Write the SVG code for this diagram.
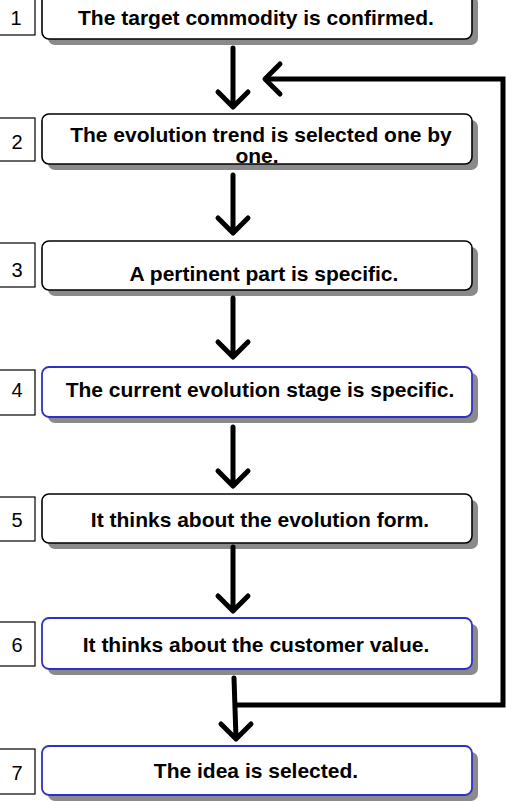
<svg xmlns="http://www.w3.org/2000/svg" width="506" height="801" viewBox="0 0 506 801">
<style>
.sh{fill:#8a8a8a;stroke:none}
.bx{fill:#fff;stroke:#000;stroke-width:1.6}
.bb{fill:#fff;stroke:#3030c8;stroke-width:1.8}
.nb{fill:#fff;stroke:#000;stroke-width:1.2}
.t{font-family:"Liberation Sans",Arial,sans-serif;font-weight:bold;font-size:21px;fill:#000;text-anchor:middle}
.n{font-family:"Liberation Sans",Arial,sans-serif;font-size:20px;fill:#000;text-anchor:middle}
.ln{fill:none;stroke:#000;stroke-width:5;stroke-linecap:round;stroke-linejoin:round}
.fb{fill:none;stroke:#000;stroke-width:5;stroke-linejoin:miter}
</style>
<rect width="506" height="801" fill="#fff"/>
<g id="node1">
<rect class="nb" x="-1" y="-9" width="36" height="44"/>
<text class="n" x="16" y="25">1</text>
<rect class="sh" x="48" y="-4" width="430" height="49" rx="7"/>
<rect class="bx" x="42" y="-10" width="430" height="49" rx="7"/>
<text class="t" x="256" y="25">The target commodity is confirmed.</text>
</g>
<g id="node2">
<rect class="nb" x="-1" y="118" width="36" height="43"/>
<text class="n" x="17" y="149">2</text>
<rect class="sh" x="48" y="120" width="430" height="50" rx="7"/>
<rect class="bx" x="42" y="114" width="430" height="50" rx="7"/>
<text class="t" x="261" y="142">The evolution trend is selected one by</text>
<text class="t" x="257" y="163">one.</text>
</g>
<g id="node3">
<rect class="nb" x="-1" y="243" width="36" height="44"/>
<text class="n" x="17" y="277">3</text>
<rect class="sh" x="48" y="247" width="430" height="49" rx="7"/>
<rect class="bx" x="42" y="241" width="430" height="49" rx="7"/>
<text class="t" x="264" y="281">A pertinent part is specific.</text>
</g>
<g id="node4">
<rect class="nb" x="-1" y="370" width="36" height="45"/>
<text class="n" x="17" y="397">4</text>
<rect class="sh" x="48" y="373" width="430" height="50" rx="7"/>
<rect class="bb" x="42" y="367" width="430" height="50" rx="7"/>
<text class="t" x="260" y="397">The current evolution stage is specific.</text>
</g>
<g id="node5">
<rect class="nb" x="-1" y="497" width="36" height="44"/>
<text class="n" x="17" y="527">5</text>
<rect class="sh" x="48" y="500" width="430" height="49" rx="7"/>
<rect class="bx" x="42" y="494" width="430" height="49" rx="7"/>
<text class="t" x="260" y="527">It thinks about the evolution form.</text>
</g>
<g id="node6">
<rect class="nb" x="-1" y="622" width="36" height="44"/>
<text class="n" x="17" y="652">6</text>
<rect class="sh" x="48" y="624" width="430" height="51" rx="7"/>
<rect class="bb" x="42" y="618" width="430" height="51" rx="7"/>
<text class="t" x="256" y="652">It thinks about the customer value.</text>
</g>
<g id="node7">
<rect class="nb" x="-1" y="749" width="36" height="45"/>
<text class="n" x="17" y="780">7</text>
<rect class="sh" x="48" y="752" width="430" height="49" rx="7"/>
<rect class="bb" x="42" y="746" width="430" height="49" rx="7"/>
<text class="t" x="256" y="778">The idea is selected.</text>
</g>
<g id="connectors">
<path class="ln" d="M233 48V106M218 92L233 107L248 92"/>
<path class="ln" d="M233 175V232M218 218L233 233L248 218"/>
<path class="ln" d="M233 298V356M218 342L233 357L248 342"/>
<path class="ln" d="M233 427V485M218 471L233 486L248 471"/>
<path class="ln" d="M233 547V610M218 596L233 611L248 596"/>
<path class="ln" d="M234 678L236 738M221 724L236 739L251 724"/>
<path class="fb" d="M236 705H503V79H266"/>
<path class="ln" d="M280 64L265 79L280 94"/>
</g>
</svg>
